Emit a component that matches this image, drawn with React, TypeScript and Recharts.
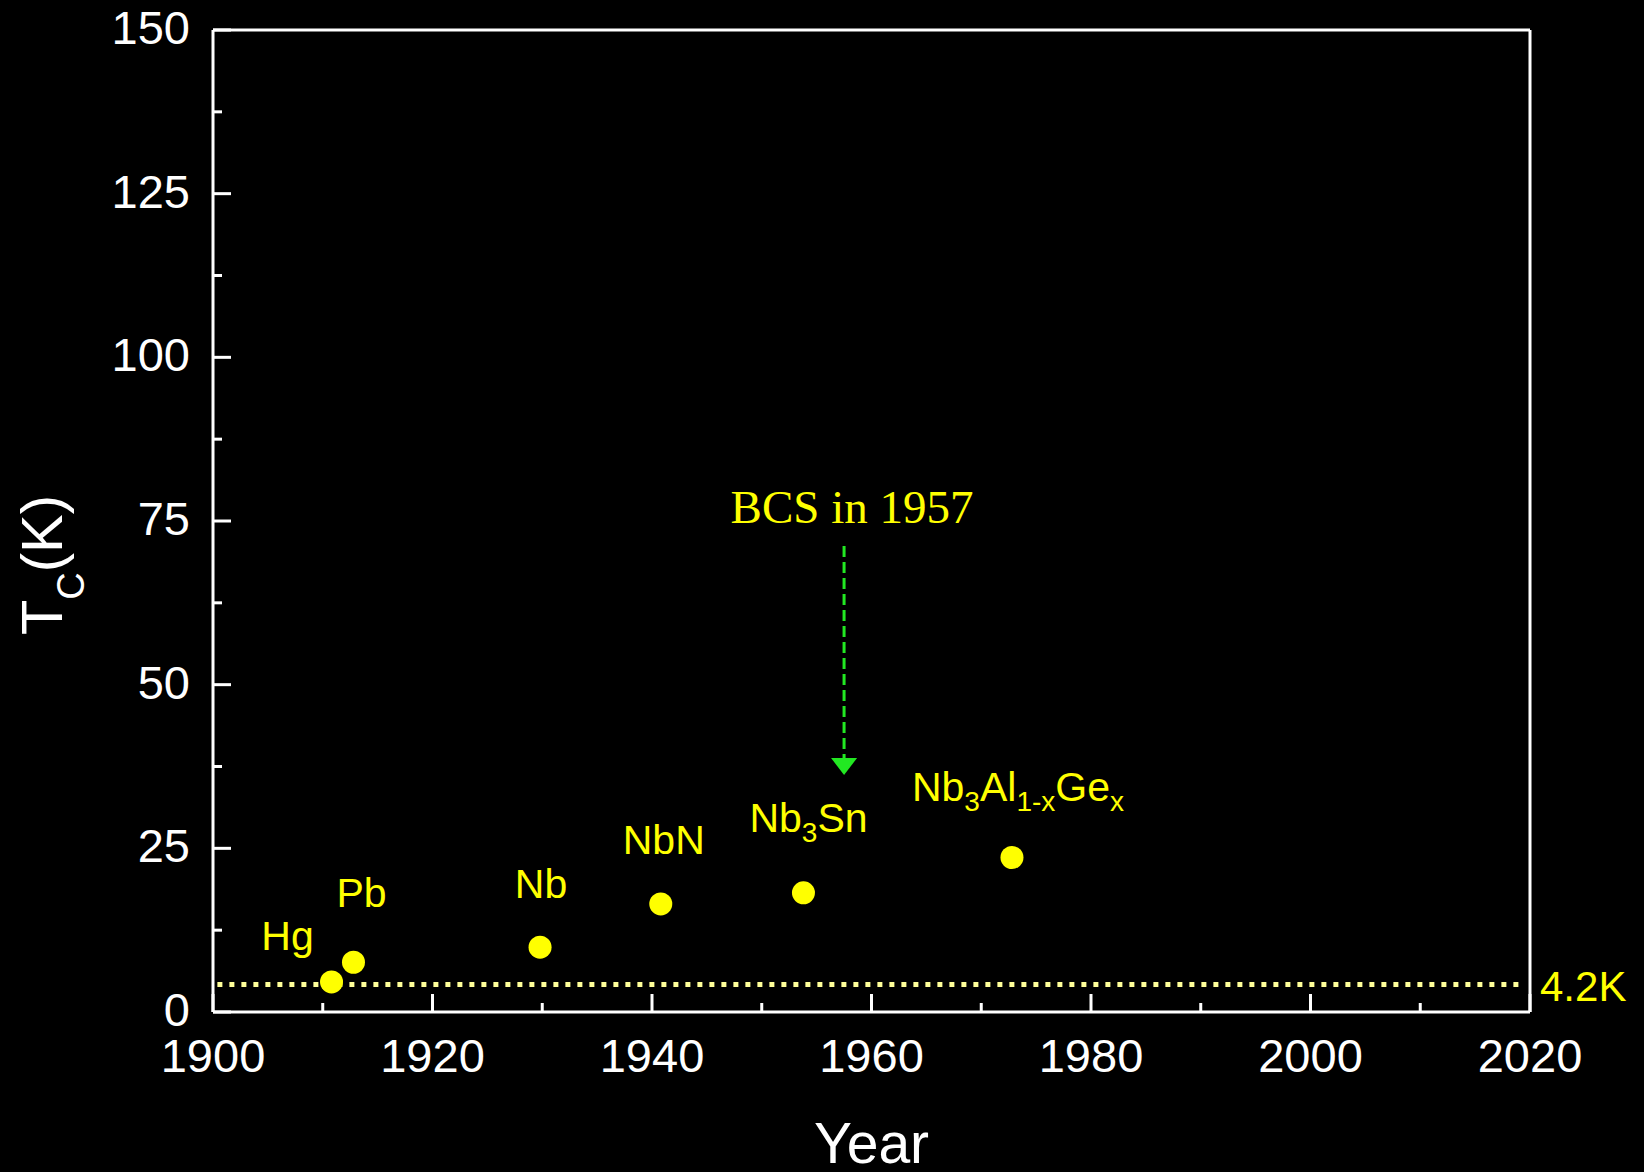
import React from 'react';
import { ScatterChart, Scatter, XAxis, YAxis, ReferenceLine } from 'recharts';

// discovery year and critical temperature of each superconductor
const years = [1910.8, 1912.8, 1929.8, 1940.8, 1953.8, 1972.8];
const tcValues = [4.6, 7.6, 9.9, 16.5, 18.2, 23.6];
const materials = ['Hg', 'Pb', 'Nb', 'NbN', 'Nb_{3}Sn', 'Nb_{3}Al_{1-x}Ge_{x}'];

const yearTicks = [1900, 1910, 1920, 1930, 1940, 1950, 1960, 1970, 1980, 1990, 2000, 2010, 2020];
const tcTicks = [0, 12.5, 25, 37.5, 50, 62.5, 75, 87.5, 100, 112.5, 125, 137.5, 150];

// liquid helium line and the BCS marker
const heliumTc = 4.2;
const heliumSpan = [1900.4, 2019];
const bcsYear = 1957.5;
const bcsArrow = [71.2, 36.2];

// label placement next to each dot (px: dx, baseline dy)
const labelOffsets = [
  [-44, -32],
  [8, -55],
  [1, -49],
  [3, -50],
  [5, -61],
  [6, -56],
];

const CHART_W = 1644;
const CHART_H = 1172;
const LEFT_W = 213;
const RIGHT_W = 114;
const TOP_H = 30;
const BOTTOM_H = 160;

const SANS = '"Liberation Sans", Arial, Helvetica, sans-serif';
const SERIF = '"Liberation Serif", "Times New Roman", serif';
const YELLOW = '#ffff00';

const points = years.map((year, i) => ({ year, tc: tcValues[i], idx: i }));

const renderFormula = (name: string) => {
  const parts = name.split(/(_\{[^}]*\})/).filter(Boolean);
  let lowered = false;
  return parts.map((part, i) => {
    if (part.startsWith('_{')) {
      const el = (
        <tspan key={i} fontSize={28} dy={lowered ? 0 : 10}>
          {part.slice(2, -1)}
        </tspan>
      );
      lowered = true;
      return el;
    }
    const el = (
      <tspan key={i} dy={lowered ? -10 : 0}>
        {part}
      </tspan>
    );
    lowered = false;
    return el;
  });
};

const Dot = (props: any) => {
  const { cx, cy, payload } = props;
  const [dx, dy] = labelOffsets[payload.idx];
  return (
    <g>
      <circle cx={cx} cy={cy} r={11.5} fill={YELLOW} />
      <text x={cx + dx} y={cy + dy} textAnchor="middle" fill={YELLOW} fontSize={41} fontFamily={SANS}>
        {renderFormula(materials[payload.idx])}
      </text>
    </g>
  );
};

const BottomTick = (props: any) => {
  const { x, y, payload } = props;
  const major = payload.value % 20 === 0;
  return (
    <g>
      <line x1={x} x2={x} y1={y} y2={y - (major ? 18 : 9)} stroke="#fff" strokeWidth={3} />
      {major && (
        <text x={x} y={y + 60} textAnchor="middle" fill="#fff" fontSize={47} fontFamily={SANS}>
          {payload.value}
        </text>
      )}
    </g>
  );
};

const TopTick = (props: any) => {
  const { x, y, payload } = props;
  const major = payload.value % 20 === 0;
  return <line x1={x} x2={x} y1={y} y2={y + (major ? 18 : 9)} stroke="#fff" strokeWidth={3} />;
};

const LeftTick = (props: any) => {
  const { x, y, payload } = props;
  const major = payload.value % 25 === 0;
  return (
    <g>
      <line x1={x} x2={x + (major ? 18 : 9)} y1={y} y2={y} stroke="#fff" strokeWidth={3} />
      {major && (
        <text x={x - 23} y={y + 14} textAnchor="end" fill="#fff" fontSize={47} fontFamily={SANS}>
          {payload.value}
        </text>
      )}
    </g>
  );
};

const RightTick = (props: any) => {
  const { x, y, payload } = props;
  const major = payload.value % 25 === 0;
  return <line x1={x} x2={x - (major ? 18 : 9)} y1={y} y2={y} stroke="#fff" strokeWidth={3} />;
};

const YearTitle = () => (
  <text
    x={LEFT_W + (CHART_W - LEFT_W - RIGHT_W) / 2}
    y={1163}
    textAnchor="middle"
    fill="#fff"
    fontSize={57}
    fontFamily={SANS}
  >
    Year
  </text>
);

const TcTitle = () => {
  const x = 62;
  const y = 565;
  return (
    <text
      x={x}
      y={y}
      transform={`rotate(-90, ${x}, ${y})`}
      textAnchor="middle"
      fill="#fff"
      fontSize={58}
      fontFamily={SANS}
    >
      <tspan>T</tspan>
      <tspan fontSize={38} dy={22}>C</tspan>
      <tspan dy={-22}>(K)</tspan>
    </text>
  );
};

const HeliumLine = (props: any) => {
  const { x1, y1, x2, y2 } = props;
  return (
    <g>
      <line x1={x1} y1={y1} x2={x2} y2={y2} stroke="#ffff99" strokeWidth={5} strokeDasharray="5 7" />
      <text x={x2 + 21} y={y2 + 16} fill={YELLOW} fontSize={42} fontFamily={SANS}>
        4.2K
      </text>
    </g>
  );
};

const BcsArrow = (props: any) => {
  const { x1, y1, x2, y2 } = props;
  const head = 17;
  return (
    <g>
      <line x1={x1} y1={y1} x2={x2} y2={y2 - head} stroke="#22e822" strokeWidth={3} strokeDasharray="11 5" />
      <polygon points={`${x2 - 13},${y2 - head} ${x2 + 13},${y2 - head} ${x2},${y2}`} fill="#22e822" />
      <text x={x1 + 8} y={y1 - 23} textAnchor="middle" fill={YELLOW} fontSize={47} fontFamily={SERIF}>
        BCS in 1957
      </text>
    </g>
  );
};

export default function App() {
  return (
    <div style={{ position: 'fixed', inset: 0, background: '#000' }}>
      <ScatterChart width={CHART_W} height={CHART_H} margin={{ top: 0, right: 0, bottom: 0, left: 0 }}>
        <XAxis
          dataKey="year"
          type="number"
          domain={[1900, 2020]}
          ticks={yearTicks}
          interval={0}
          height={BOTTOM_H}
          tickSize={0}
          tickMargin={0}
          tickLine={false}
          axisLine={{ stroke: '#fff', strokeWidth: 3 }}
          tick={<BottomTick />}
          label={{ content: YearTitle }}
        />
        <XAxis
          xAxisId="top"
          orientation="top"
          dataKey="year"
          type="number"
          domain={[1900, 2020]}
          ticks={yearTicks}
          interval={0}
          height={TOP_H}
          tickSize={0}
          tickMargin={0}
          tickLine={false}
          axisLine={{ stroke: '#fff', strokeWidth: 3 }}
          tick={<TopTick />}
        />
        <YAxis
          dataKey="tc"
          type="number"
          domain={[0, 150]}
          ticks={tcTicks}
          interval={0}
          width={LEFT_W}
          tickSize={0}
          tickMargin={0}
          tickLine={false}
          axisLine={{ stroke: '#fff', strokeWidth: 3 }}
          tick={<LeftTick />}
          label={{ content: TcTitle }}
        />
        <YAxis
          yAxisId="right"
          orientation="right"
          dataKey="tc"
          type="number"
          domain={[0, 150]}
          ticks={tcTicks}
          interval={0}
          width={RIGHT_W}
          tickSize={0}
          tickMargin={0}
          tickLine={false}
          axisLine={{ stroke: '#fff', strokeWidth: 3 }}
          tick={<RightTick />}
        />
        <Scatter data={points} dataKey="tc" fill={YELLOW} shape={Dot} isAnimationActive={false} />
        <ReferenceLine
          segment={[
            { x: heliumSpan[0], y: heliumTc },
            { x: heliumSpan[1], y: heliumTc },
          ]}
          shape={HeliumLine}
        />
        <ReferenceLine
          segment={[
            { x: bcsYear, y: bcsArrow[0] },
            { x: bcsYear, y: bcsArrow[1] },
          ]}
          shape={BcsArrow}
        />
      </ScatterChart>
    </div>
  );
}
